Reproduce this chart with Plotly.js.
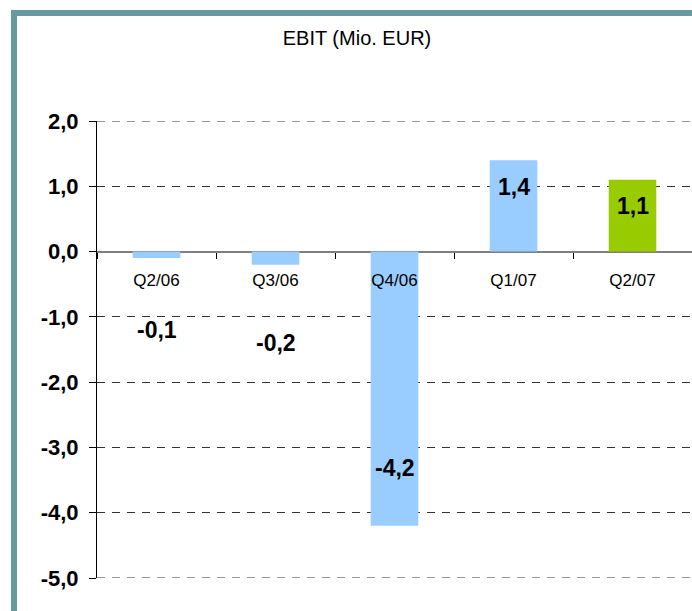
<!DOCTYPE html>
<html>
<head>
<meta charset="utf-8">
<script src="https://cdn.plot.ly/plotly-3.0.1.min.js"></script>
<style>
	html, body { margin: 0; padding: 0; background: #fff; }
	#chart { width: 692px; height: 611px; }
</style>
</head>
<body>
<div id="chart"></div>
<script>
// H| data
const quarters = ["Q2/06", "Q3/06", "Q4/06", "Q1/07", "Q2/07"]
const ebit = [-0.1, -0.2, -4.2, 1.4, 1.1]
const yTickVals = [-5, -4, -3, -2, -1, 0, 1, 2]
const yTickText = ["-5,0", "-4,0", "-3,0", "-2,0", "-1,0", "0,0", "1,0", "2,0"]

// last quarter is highlighted in green
const barColors = quarters.map((q, i) => i == quarters.length - 1 ? "#99cc00" : "#99ccff")

// where the value labels sit (data units), hand placed like in the original slide
const labelY = [-1.2, -1.4, -3.31, 0.99, 0.7]

const FONT = "Liberation Sans, Arial, sans-serif"

// plot area in pixels
const W = 692, H = 611
const M = { l: 97, r: 0, t: 121, b: 33 }
const plotW = W - M.l - M.r
const plotH = H - M.t - M.b
const px = x => (x - M.l) / plotW
const py = y => (H - M.b - y) / plotH

const frameColor = "#669aa0"
const gridColor = "#333"
const gridDash = "8px,7px"

// H| traces
const trace = {
	type: "bar",
	x: quarters,
	y: ebit,
	width: 0.4,
	marker: { color: barColors, line: { width: 0 } },
	hoverinfo: "skip"
}

const annotations = ebit.map((v, i) => ({
	x: quarters[i],
	y: labelY[i],
	xref: "x",
	yref: "y",
	text: v.toFixed(1).replace(".", ","),
	showarrow: false,
	font: { family: FONT, size: 23, color: "#000", weight: "bold" },
	xanchor: "center",
	yanchor: "middle"
}))

// plotly skips gridlines on the plot edges, so draw the outer two by hand
const edgeGrid = [yTickVals[0], yTickVals[yTickVals.length - 1]].map(v => ({
	type: "line", xref: "paper", yref: "y", x0: 0, x1: 1, y0: v, y1: v,
	line: { color: gridColor, width: 1, dash: gridDash }, layer: "below"
}))

const layout = {
	width: W,
	height: H,
	margin: M,
	paper_bgcolor: "#fff",
	plot_bgcolor: "#fff",
	showlegend: false,
	title: {
		text: "EBIT (Mio. EUR)",
		font: { family: FONT, size: 20, color: "#000" },
		xref: "paper",
		x: px(357),
		xanchor: "center",
		yref: "container",
		y: 1 - 38 / H,
		yanchor: "middle"
	},
	xaxis: {
		type: "category",
		range: [-0.5, 4.5],
		anchor: "free",
		position: py(251.6),
		showline: false,
		showgrid: false,
		zeroline: false,
		tickson: "boundaries",
		ticks: "outside",
		ticklen: 6,
		tickwidth: 1,
		tickcolor: "#000",
		ticklabelstandoff: 16,
		tickfont: { family: FONT, size: 17, color: "#000" },
		fixedrange: true
	},
	yaxis: {
		range: [-5, 2],
		tickvals: yTickVals,
		ticktext: yTickText,
		showline: true,
		linecolor: "#000",
		linewidth: 1,
		ticks: "outside",
		ticklen: 7,
		tickcolor: "#000",
		ticklabelstandoff: 6,
		tickfont: { family: FONT, size: 22, color: "#000", weight: "bold" },
		showgrid: true,
		gridcolor: gridColor,
		gridwidth: 1,
		griddash: gridDash,
		zeroline: true,
		zerolinecolor: "#7f7f7f",
		zerolinewidth: 2,
		fixedrange: true
	},
	annotations: annotations,
	shapes: [
		...edgeGrid,
		// teal frame, left and top
		{ type: "rect", xref: "paper", yref: "paper", x0: px(11), x1: px(17), y0: py(H + 5), y1: py(10), fillcolor: frameColor, line: { width: 0 }, layer: "above" },
		{ type: "rect", xref: "paper", yref: "paper", x0: px(11), x1: px(W + 5), y0: py(16), y1: py(10), fillcolor: frameColor, line: { width: 0 }, layer: "above" }
	]
}

Plotly.newPlot("chart", [trace], layout, { displayModeBar: false, staticPlot: true })
</script>
</body>
</html>
